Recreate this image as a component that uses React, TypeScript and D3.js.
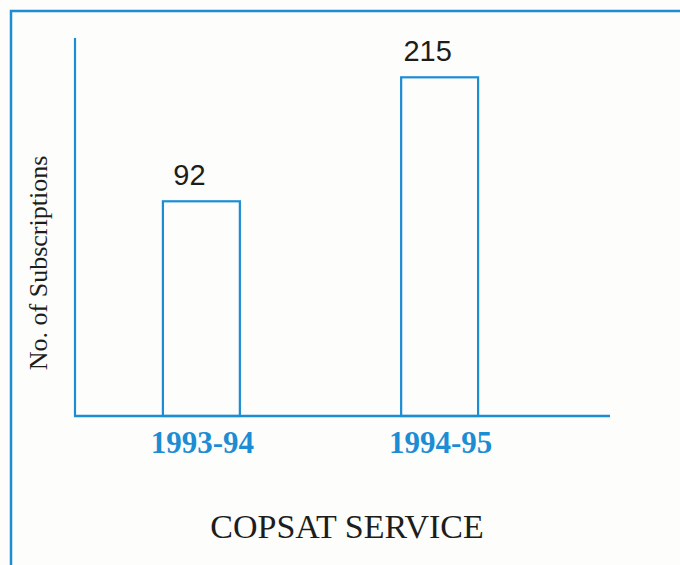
import * as d3 from 'd3';
import { useEffect, useRef } from 'react';

const categories = ['1993-94', '1994-95'];
const subscriptions = [92, 215];
// the printed bars are not to scale; this domain reproduces their drawn heights
const valueDomain = [-121, 254];

const dimensions = {
  width: 680,
  height: 565,
  left: 75,
  top: 38,
  baseline: 416,
  axisEnd: 610,
};

const blue = '#1c8dd3';
const ink = '#1d1d1b';

export default function App() {
  const svgRef = useRef(null);

  useEffect(() => {
    const svg = d3.select(svgRef.current);
    svg.selectAll('*').remove();

    svg
      .append('rect')
      .attr('width', dimensions.width)
      .attr('height', dimensions.height)
      .style('fill', '#fdfdfb');

    // frame (runs off the right and bottom of the page)
    svg
      .append('path')
      .attr('d', 'M11,' + (dimensions.height + 5) + 'V11H' + (dimensions.width + 5))
      .style('fill', 'none')
      .style('stroke', blue)
      .style('stroke-width', 2.5);

    const xScale = d3
      .scaleBand()
      .domain(categories)
      .range([dimensions.left, 566])
      .paddingInner(0.677)
      .paddingOuter(0.369);

    const yScale = d3
      .scaleLinear()
      .domain(valueDomain)
      .range([dimensions.baseline, dimensions.top]);

    const data = categories.map((c, i) => ({ c, v: subscriptions[i] }));

    // bars
    svg
      .append('g')
      .selectAll('rect')
      .data(data)
      .enter()
      .append('rect')
      .attr('x', (d) => xScale(d.c))
      .attr('y', (d) => yScale(d.v))
      .attr('width', xScale.bandwidth())
      .attr('height', (d) => dimensions.baseline - yScale(d.v))
      .style('fill', 'none')
      .style('stroke', blue)
      .style('stroke-width', 2.2);

    // axes
    svg
      .append('line')
      .attr('x1', dimensions.left)
      .attr('x2', dimensions.left)
      .attr('y1', dimensions.top)
      .attr('y2', dimensions.baseline)
      .style('stroke', blue)
      .style('stroke-width', 2.2);

    svg
      .append('line')
      .attr('x1', dimensions.left - 1)
      .attr('x2', dimensions.axisEnd)
      .attr('y1', dimensions.baseline)
      .attr('y2', dimensions.baseline)
      .style('stroke', blue)
      .style('stroke-width', 2.5);

    // value labels
    svg
      .append('g')
      .selectAll('text')
      .data(data)
      .enter()
      .append('text')
      .attr('x', (d) => xScale(d.c) + xScale.bandwidth() / 2 - 12)
      .attr('y', (d) => yScale(d.v) - 16)
      .attr('text-anchor', 'middle')
      .style('font-family', 'Liberation Sans')
      .style('font-size', 29)
      .style('fill', ink)
      .text((d) => d.v);

    // category labels
    svg
      .append('g')
      .selectAll('text')
      .data(categories)
      .enter()
      .append('text')
      .attr('x', (d) => xScale(d) + xScale.bandwidth() / 2 + 1)
      .attr('y', 453)
      .attr('text-anchor', 'middle')
      .style('font-family', 'Liberation Serif')
      .style('font-weight', 'bold')
      .style('font-size', 31)
      .style('fill', blue)
      .text((d) => d);

    // Y label
    svg
      .append('text')
      .attr('text-anchor', 'middle')
      .attr('transform', 'translate(47,263)rotate(-90)')
      .style('font-family', 'Liberation Serif')
      .style('font-size', 26)
      .style('fill', ink)
      .text('No. of Subscriptions');

    // title
    svg
      .append('text')
      .attr('x', 347)
      .attr('y', 538)
      .attr('text-anchor', 'middle')
      .style('font-family', 'Liberation Serif')
      .style('font-size', 34)
      .style('fill', ink)
      .text('COPSAT SERVICE');
  }, []);

  return (
    <div>
      <svg
        ref={svgRef}
        width={dimensions.width}
        height={dimensions.height}
        style={{ position: 'absolute', left: 0, top: 0 }}
      ></svg>
    </div>
  );
}
